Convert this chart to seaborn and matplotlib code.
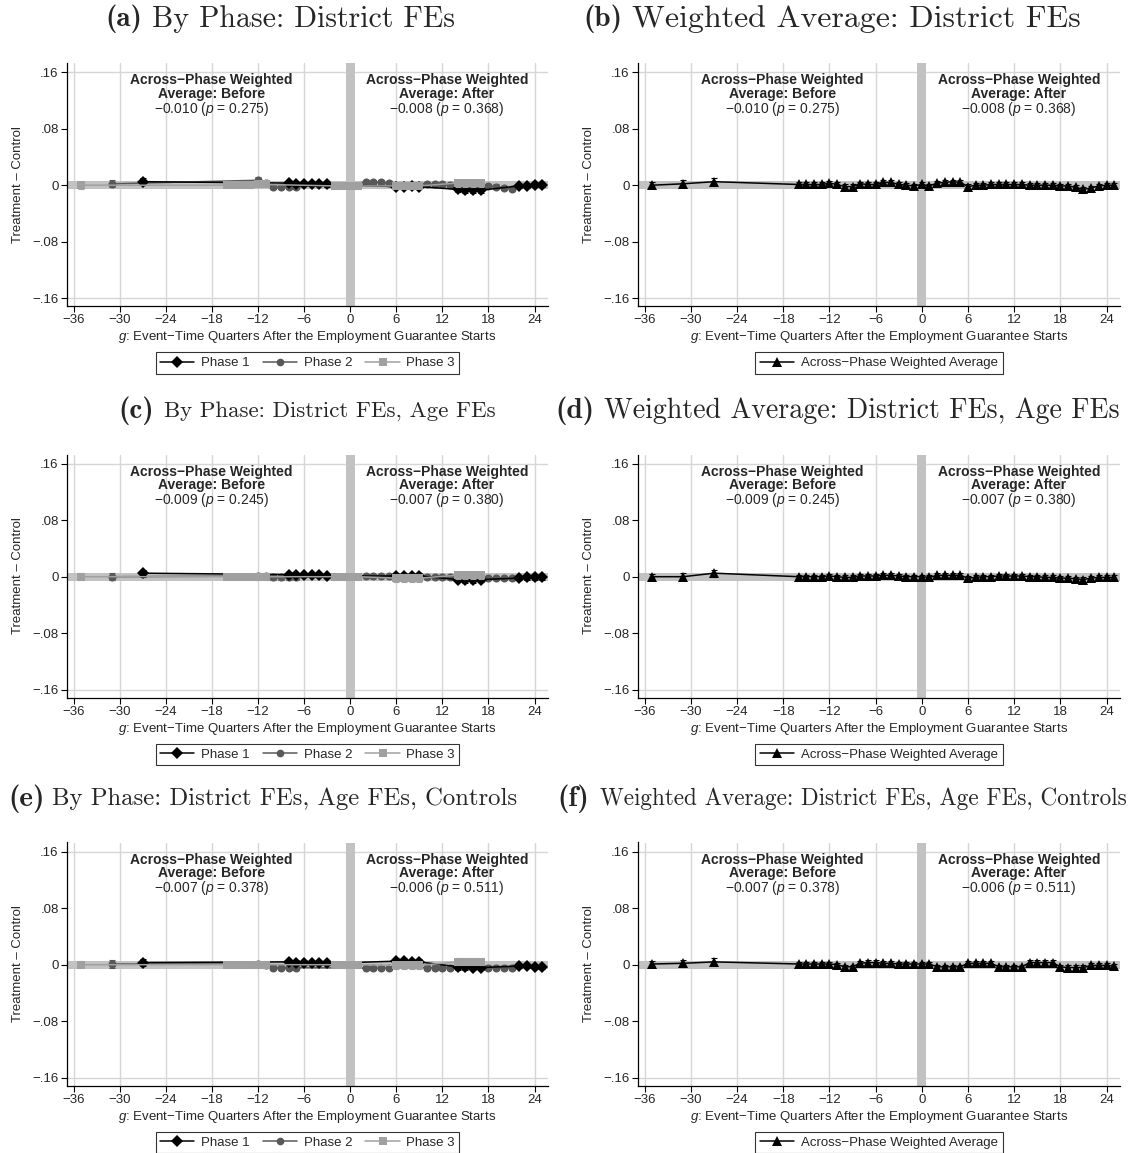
import numpy as np
import pandas as pd
import seaborn as sns
import matplotlib.pyplot as plt
from matplotlib.lines import Line2D

# event-time quarters observed for each phase
G_P1 = [-27, -8, -7, -6, -5, -4, -3, 6, 7, 8, 9, 14, 15, 16, 17, 22, 23, 24, 25]
G_P2 = [-31, -12, -11, -10, -9, -8, -7, 2, 3, 4, 5, 10, 11, 12, 13, 18, 19, 20, 21]
G_P3 = [-35, -16, -15, -14, -13, -12, -11, -2, -1, 0, 1, 6, 7, 8, 9, 14, 15, 16, 17]
G_AVG = [-35, -31, -27, -16, -15, -14, -13, -12, -11, -10, -9, -8, -7, -6, -5, -4, -3,
         -2, -1, 0, 1, 2, 3, 4, 5, 6, 7, 8, 9, 10, 11, 12, 13, 14, 15, 16, 17,
         18, 19, 20, 21, 22, 23, 24, 25]

# point estimates, by specification
P1_A = [0.005, 0.003, 0.002, 0.002, 0.002, 0.002, 0.001, -0.002, -0.002, -0.001, -0.002,
        -0.006, -0.007, -0.007, -0.007, -0.001, -0.001, 0.000, 0.000]
P2_A = [0.002, 0.007, 0.003, -0.003, -0.003, -0.002, -0.002, 0.004, 0.004, 0.004, 0.003,
        0.002, 0.001, 0.001, 0.000, -0.001, -0.002, -0.004, -0.005]
P3_A = [0.000, 0.000, 0.000, 0.000, 0.000, 0.001, 0.001, -0.001, -0.001, -0.001, -0.001,
        -0.001, -0.001, -0.001, -0.001, 0.003, 0.003, 0.003, 0.003]
P1_C = [0.005, 0.003, 0.002, 0.002, 0.002, 0.002, 0.001, 0.001, 0.001, 0.001, 0.001,
        -0.004, -0.005, -0.005, -0.004, -0.002, -0.001, -0.001, -0.001]
P2_C = [0.000, 0.001, 0.001, -0.001, -0.001, -0.001, -0.001, 0.001, 0.001, 0.001, 0.001,
        0.000, 0.000, 0.000, 0.000, -0.002, -0.002, -0.002, -0.002]
P3_C = [0.000, 0.000, 0.000, 0.000, 0.000, 0.000, 0.000, 0.000, 0.000, 0.000, 0.000,
        -0.002, -0.002, -0.002, -0.002, 0.002, 0.002, 0.002, 0.002]
P1_E = [0.003, 0.004, 0.003, 0.003, 0.002, 0.002, 0.002, 0.005, 0.005, 0.004, 0.004,
        -0.003, -0.003, -0.004, -0.004, -0.002, -0.002, -0.003, -0.003]
P2_E = [0.001, 0.001, 0.000, -0.004, -0.004, -0.004, -0.004, -0.005, -0.005, -0.005, -0.005,
        -0.004, -0.004, -0.004, -0.004, -0.004, -0.004, -0.004, -0.004]
P3_E = [0.000, 0.000, 0.000, 0.000, 0.000, 0.000, 0.000, 0.000, 0.000, 0.000, 0.000,
        -0.001, -0.001, -0.001, -0.001, 0.004, 0.004, 0.004, 0.004]

AVG_B = [0.000, 0.002, 0.005,
         0.001, 0.001, 0.001, 0.001, 0.003, 0.001, -0.002, -0.002, 0.002, 0.001, 0.001,
         0.004, 0.004, 0.001, 0.000, -0.001, 0.001, -0.001, 0.003, 0.004, 0.005, 0.004,
         -0.002, 0.000, 0.000, 0.001, 0.001, 0.001, 0.001, 0.001, 0.000, 0.000, 0.000,
         0.000, -0.001, -0.001, -0.003, -0.006, -0.004, -0.001, 0.000, 0.000]
AVG_D = [0.000, 0.000, 0.005,
         0.000, 0.000, 0.000, 0.000, 0.001, 0.000, -0.001, -0.001, 0.001, 0.001, 0.001,
         0.002, 0.002, 0.001, 0.000, 0.000, 0.000, -0.001, 0.002, 0.002, 0.002, 0.002,
         -0.002, -0.001, 0.000, 0.000, 0.001, 0.001, 0.001, 0.001, 0.000, 0.000, -0.001,
         -0.001, -0.002, -0.002, -0.003, -0.004, -0.002, -0.001, -0.001, -0.001]
AVG_F = [0.001, 0.002, 0.004,
         0.001, 0.001, 0.001, 0.001, 0.001, 0.000, -0.003, -0.003, 0.002, 0.003, 0.003,
         0.002, 0.002, 0.001, 0.001, 0.001, 0.001, 0.001, -0.003, -0.003, -0.003, -0.003,
         0.002, 0.002, 0.002, 0.002, -0.003, -0.003, -0.003, -0.003, 0.003, 0.003, 0.003,
         0.003, -0.003, -0.004, -0.004, -0.004, -0.001, -0.001, -0.001, -0.002]

# 95% CI half-widths
CI_P1 = [0.005, 0.003, 0.003, 0.003, 0.003, 0.003, 0.003, 0.004, 0.004, 0.004, 0.004,
         0.004, 0.004, 0.004, 0.004, 0.003, 0.003, 0.003, 0.003]
CI_P2 = [0.005, 0.004, 0.004, 0.003, 0.003, 0.003, 0.003, 0.003, 0.003, 0.003, 0.003,
         0.003, 0.003, 0.003, 0.003, 0.003, 0.003, 0.003, 0.003]
CI_P3 = [0.005, 0.004, 0.004, 0.004, 0.004, 0.004, 0.004, 0.004, 0.004, 0.004, 0.004,
         0.005, 0.005, 0.005, 0.005, 0.005, 0.005, 0.005, 0.005]
CI_AVG = [0.004, 0.005, 0.005,
          0.003, 0.003, 0.003, 0.003, 0.003, 0.003, 0.003, 0.003, 0.003, 0.003, 0.003,
          0.003, 0.003, 0.003, 0.003, 0.003, 0.003, 0.003, 0.003, 0.003, 0.003, 0.003,
          0.003, 0.003, 0.003, 0.003, 0.003, 0.003, 0.003, 0.003, 0.003, 0.003, 0.003,
          0.003, 0.003, 0.003, 0.003, 0.003, 0.003, 0.003, 0.003, 0.003]

# pooled estimates printed in the panels
BEFORE = ["\u22120.010", "\u22120.009", "\u22120.007"]
P_BEFORE = ["0.275", "0.245", "0.378"]
AFTER = ["\u22120.008", "\u22120.007", "\u22120.006"]
P_AFTER = ["0.368", "0.380", "0.511"]

X_TICKS = [-36, -30, -24, -18, -12, -6, 0, 6, 12, 18, 24]
Y_TICKS = [0.16, 0.08, 0, -0.08, -0.16]
Y_LABELS = [".16", ".08", "0", "\u2212.08", "\u2212.16"]

TITLES_L = [("(a)", "By Phase: District FEs"),
            ("(c)", "By Phase: District FEs, Age FEs"),
            ("(e)", "By Phase: District FEs, Age FEs, Controls")]
TITLES_R = [("(b)", "Weighted Average: District FEs"),
            ("(d)", "Weighted Average: District FEs, Age FEs"),
            ("(f)", "Weighted Average: District FEs, Age FEs, Controls")]

sns.set_style("white")
plt.rcParams['font.family'] = ['Liberation Sans', 'DejaVu Sans']
plt.rcParams['mathtext.fontset'] = 'custom'
plt.rcParams['mathtext.rm'] = 'Liberation Sans'
plt.rcParams['mathtext.it'] = 'Liberation Sans:italic'
plt.rcParams['mathtext.bf'] = 'Liberation Sans:bold'

W, H = 1133, 1153
fig = plt.figure(figsize=(W / 100, H / 100), dpi=100)
renderer = fig.canvas.get_renderer()

REF = '#c2c2c2'
GRID = '#d6d6d6'
C1, C2, C3 = 'black', '#585858', '#a0a0a0'


def setup(ax, pre, post):
    ax.set_xlim(-36.87, 25.75)
    ax.set_ylim(-0.171, 0.173)
    for x in X_TICKS:
        ax.axvline(x, color=GRID, lw=1.0, zorder=0)
    for y in (0.16, -0.16):
        ax.axhline(y, color=GRID, lw=1.0, zorder=0)
    ax.axvspan(-0.6, 0.6, color=REF, lw=0, zorder=1)
    ax.axhspan(-0.0058, 0.0058, color=REF, lw=0, zorder=1)
    ax.set_xticks(X_TICKS)
    ax.set_xticklabels([str(x).replace('-', '\u2212') for x in X_TICKS], fontsize=9.5)
    ax.set_yticks(Y_TICKS)
    ax.set_yticklabels(Y_LABELS, fontsize=9.5)
    ax.tick_params(axis='both', direction='out', length=4, width=0.8, color='black', pad=2)
    ax.tick_params(axis='x', bottom=True)
    ax.tick_params(axis='y', left=True)
    for s in ['top', 'right']:
        ax.spines[s].set_visible(False)
    for s in ['left', 'bottom']:
        ax.spines[s].set_color('black')
        ax.spines[s].set_linewidth(0.9)
    ax.set_xlabel("$g$: Event\u2212Time Quarters After the Employment Guarantee Starts",
                  fontsize=9.5, labelpad=2)
    ax.set_ylabel("Treatment \u2013 Control", fontsize=9.5, labelpad=6)
    for xf, head, (est, p) in [(0.30, "Across\u2212Phase Weighted\nAverage: Before", pre),
                               (0.79, "Across\u2212Phase Weighted\nAverage: After", post)]:
        ax.text(xf, 0.958, head, transform=ax.transAxes, ha='center', va='top',
                fontsize=10, fontweight='bold', linespacing=0.98, zorder=6)
        ax.text(xf, 0.812, est + " ($p$ = " + p + ")", transform=ax.transAxes,
                ha='center', va='center', fontsize=10, zorder=6)


def draw_phase(ax, g, v, ci, color, marker, ms, z, label):
    df = pd.DataFrame({'g': g, 'v': v})
    ax.errorbar(g, v, yerr=ci, fmt='none', ecolor=color, elinewidth=0.8, capsize=2,
                capthick=0.8, zorder=z)
    sns.lineplot(data=df, x='g', y='v', ax=ax, color=color, lw=1.1, marker=marker,
                 markersize=ms, markeredgewidth=0, markerfacecolor=color,
                 errorbar=None, zorder=z, label=label, legend=False)


def title(x0, x1, x2, y, lab, txt):
    # bold panel letter, then the caption squeezed to the span x1..x2 (pixels)
    fig.text(x0 / W, 1 - y / H, lab, fontfamily='cmb10', fontsize=21.0, va='center', ha='left')
    t = fig.text(x1 / W, 1 - y / H, txt, fontfamily='cmr10', fontsize=20, va='center', ha='left')
    wpx = t.get_window_extent(renderer=renderer).width
    t.set_fontsize(20 * (x2 - x1) / wpx)


row_bottoms = [1 - 306 / H, 1 - 697.5 / H, 1 - 1085.5 / H]
ah = 243 / H
left_x, left_w = 67 / W, 481 / W
right_x, right_w = 638 / W, 482 / W

phase_data = [(P1_A, P2_A, P3_A), (P1_C, P2_C, P3_C), (P1_E, P2_E, P3_E)]
avg_data = [AVG_B, AVG_D, AVG_F]
title_y = [19, 411, 799]
title_lx = [(105, 152, 455), (118, 164, 497), (8, 52, 518)]
title_rx = [(583, 632, 1081), (555, 604, 1120), (557, 600, 1128)]

for r in range(3):
    axl = fig.add_axes([left_x, row_bottoms[r], left_w, ah])
    axr = fig.add_axes([right_x, row_bottoms[r], right_w, ah])
    pre = (BEFORE[r], P_BEFORE[r])
    post = (AFTER[r], P_AFTER[r])
    setup(axl, pre, post)
    setup(axr, pre, post)

    p1, p2, p3 = phase_data[r]
    draw_phase(axl, G_P2, p2, CI_P2, C2, 'o', 5.8, 3, 'Phase 2')
    draw_phase(axl, G_P1, p1, CI_P1, C1, 'D', 6.5, 4, 'Phase 1')
    draw_phase(axl, G_P3, p3, CI_P3, C3, 's', 5.6, 5, 'Phase 3')
    draw_phase(axr, G_AVG, avg_data[r], CI_AVG, 'black', '^', 7, 4,
               'Across\u2212Phase Weighted Average')

    hl = [Line2D([], [], color=C1, marker='D', ms=6, mew=0, lw=1.1),
          Line2D([], [], color=C2, marker='o', ms=5.5, mew=0, lw=1.1),
          Line2D([], [], color=C3, marker='s', ms=5.5, mew=0, lw=1.1)]
    lg = axl.legend(hl, ['Phase 1', 'Phase 2', 'Phase 3'], loc='center',
                    bbox_to_anchor=(0.5, -0.235), ncol=3, fontsize=9.5, frameon=True,
                    fancybox=False, edgecolor='black', handlelength=2.6,
                    columnspacing=1.0, handletextpad=0.5, borderpad=0.35)
    lg.get_frame().set_linewidth(0.8)
    hr = [Line2D([], [], color='black', marker='^', ms=6.5, mew=0, lw=1.1)]
    lg = axr.legend(hr, ['Across\u2212Phase Weighted Average'], loc='center',
                    bbox_to_anchor=(0.5, -0.235), ncol=1, fontsize=9.5, frameon=True,
                    fancybox=False, edgecolor='black', handlelength=2.6,
                    handletextpad=0.5, borderpad=0.35)
    lg.get_frame().set_linewidth(0.8)

    title(*title_lx[r], title_y[r], *TITLES_L[r])
    title(*title_rx[r], title_y[r], *TITLES_R[r])

fig.savefig('out.png', dpi=100)
